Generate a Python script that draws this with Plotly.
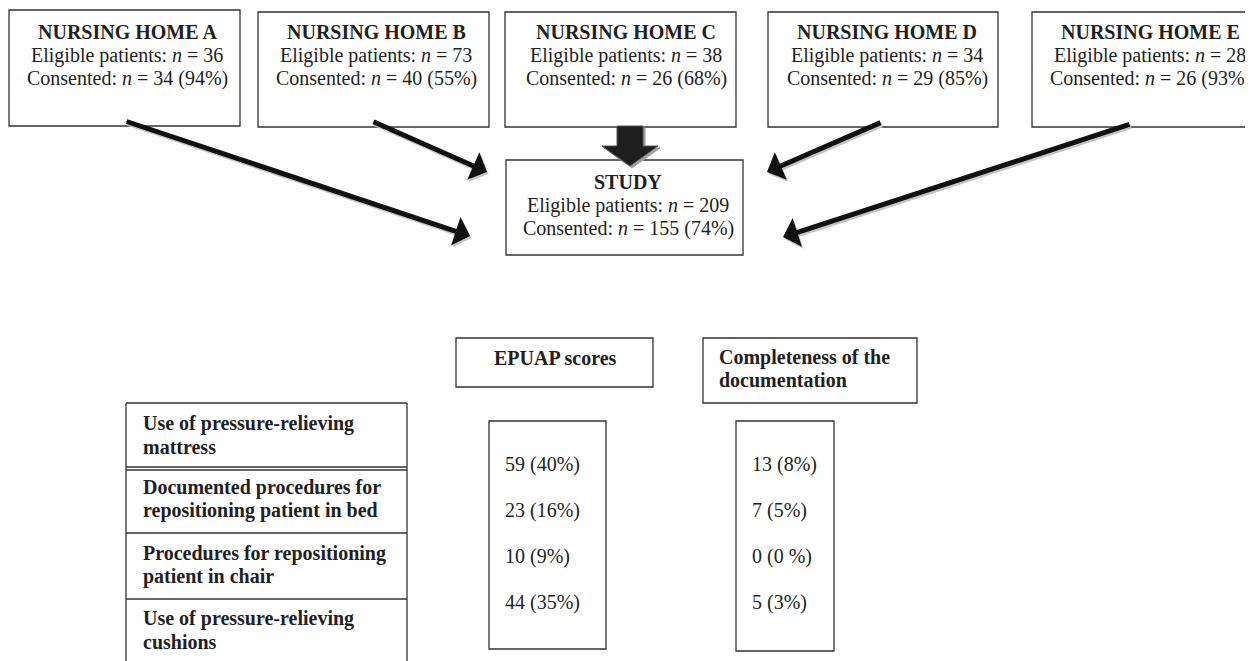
import plotly.graph_objects as go

# ---------------- data ----------------
homes = ["NURSING HOME A", "NURSING HOME B", "NURSING HOME C", "NURSING HOME D", "NURSING HOME E"]
eligible = [36, 73, 38, 34, 28]
consented = [34, 40, 26, 29, 26]
consented_pct = [94, 55, 68, 85, 93]

study_title = "STUDY"
study_eligible = 209
study_consented = 155
study_pct = 74

criteria = [
    ["Use of pressure-relieving", "mattress"],
    ["Documented procedures for", "repositioning patient in bed"],
    ["Procedures for repositioning", "patient in chair"],
    ["Use of pressure-relieving", "cushions"],
]
epuap_header = "EPUAP scores"
epuap_n = [59, 23, 10, 44]
epuap_pct = ["40%", "16%", "9%", "35%"]
doc_header = ["Completeness of the", "documentation"]
doc_n = [13, 7, 0, 5]
doc_pct = ["8%", "5%", "0 %", "3%"]

# ---------------- layout constants (pixel space of the page) ----------------
W, H = 1253, 661
PAGE_MARGIN = 8          # default body margin of the html page
FONT = "Liberation Serif"
FS = 20
TXT = "#231f20"
EDGE = "#333333"

home_boxes = [(9, 240, 10, 126), (258, 489, 12, 127), (505, 736, 12, 127),
              (768, 998, 12, 127), (1032, 1262, 12, 127)]
home_text_x = [127, 376, 626, 887, 1150]
home_text_y = [32, 55, 78]

study_box = (506, 743, 160, 255)
study_text_x = 628
study_text_y = [182, 205, 228]

arrows = [((125, 121), (470, 236)), ((372, 121), (487, 172)),
          ((882, 122), (767, 172)), ((1131, 124), (783, 237))]

table_box = (126, 407, 403, 675)
table_text_x = 141
table_line_y = [(423, 447), (487, 510), (553, 576), (618, 642)]
table_seps = [467, 470, 533, 599]

epuap_hbox = (456, 653, 338, 387)
epuap_hx, epuap_hy = 555, 358
doc_hbox = (703, 917, 338, 403)
doc_hx, doc_hy = 717, [357, 380]

epuap_vbox = (489, 606, 421, 649)
doc_vbox = (736, 834, 421, 651)
val_y = [464, 510, 556, 602]
epuap_vx = 503
doc_vx = 750

fig = go.Figure()
fig.add_trace(go.Scatter(x=[PAGE_MARGIN, W], y=[PAGE_MARGIN, H], mode="markers",
                         marker=dict(opacity=0), hoverinfo="skip", showlegend=False))

shapes = []
annotations = []


def rect(b, lw=1.3):
    x0, x1, y0, y1 = b
    shapes.append(dict(type="rect", xref="x", yref="y", x0=x0, x1=x1, y0=y0, y1=y1,
                       line=dict(color=EDGE, width=lw), fillcolor="rgba(0,0,0,0)"))


def text(x, y, s, anchor="center", bold=False):
    if bold:
        s = "<b>" + s + "</b>"
    annotations.append(dict(x=x, y=y, xref="x", yref="y", text=s, showarrow=False,
                            xanchor=anchor, yanchor="middle",
                            font=dict(family=FONT, size=FS, color=TXT)))


# nursing homes
for i, name in enumerate(homes):
    rect(home_boxes[i])
    tx = home_text_x[i]
    text(tx, home_text_y[0], name, bold=True)
    text(tx, home_text_y[1], f"Eligible patients: <i>n</i> = {eligible[i]}")
    text(tx, home_text_y[2], f"Consented: <i>n</i> = {consented[i]} ({consented_pct[i]}%)")

# study box
rect(study_box)
text(study_text_x, study_text_y[0], study_title, bold=True)
text(study_text_x, study_text_y[1], f"Eligible patients: <i>n</i> = {study_eligible}")
text(study_text_x, study_text_y[2], f"Consented: <i>n</i> = {study_consented} ({study_pct}%)")

# block arrow C -> study
cx = 630


def block_arrow(dx, dy, fill, line_col):
    p = (f"M {cx-13+dx},{126+dy} L {cx+13+dx},{126+dy} L {cx+13+dx},{146+dy} "
         f"L {cx+28+dx},{146+dy} L {cx+dx},{166+dy} L {cx-28+dx},{146+dy} "
         f"L {cx-13+dx},{146+dy} Z")
    shapes.append(dict(type="path", xref="x", yref="y", path=p, fillcolor=fill,
                       line=dict(color=line_col, width=1)))


block_arrow(2, 2, "#a0a0a0", "#a0a0a0")
block_arrow(0, 0, "#1e1e1e", "#555555")

# line arrows (shadow first)
for (tail, tip) in arrows:
    annotations.append(dict(x=tip[0] + 1.5, y=tip[1] + 2, ax=tail[0] + 1.5, ay=tail[1] + 2,
                            xref="x", yref="y", axref="x", ayref="y", text="",
                            showarrow=True, arrowhead=1, arrowsize=1.0, arrowwidth=5,
                            arrowcolor="#c4c4c4", standoff=0))
for (tail, tip) in arrows:
    annotations.append(dict(x=tip[0], y=tip[1], ax=tail[0], ay=tail[1],
                            xref="x", yref="y", axref="x", ayref="y", text="",
                            showarrow=True, arrowhead=1, arrowsize=1.0, arrowwidth=5,
                            arrowcolor="#111111", standoff=0))

# headers
rect(epuap_hbox)
text(epuap_hx, epuap_hy, epuap_header, bold=True)
rect(doc_hbox)
for j, line in enumerate(doc_header):
    text(doc_hx, doc_hy[j], line, anchor="left", bold=True)

# criteria table
x0, x1, y0, y1 = table_box
shapes.append(dict(type="line", xref="x", yref="y", x0=x0, x1=x1, y0=y0, y1=y0,
                   line=dict(color=EDGE, width=1.3)))
for xx in (x0, x1):
    shapes.append(dict(type="line", xref="x", yref="y", x0=xx, x1=xx, y0=y0, y1=y1,
                       line=dict(color=EDGE, width=1.3)))
for yy in table_seps:
    shapes.append(dict(type="line", xref="x", yref="y", x0=x0, x1=x1, y0=yy, y1=yy,
                       line=dict(color=EDGE, width=1.3)))
for r, lines in enumerate(criteria):
    for k, line in enumerate(lines):
        text(table_text_x, table_line_y[r][k], line, anchor="left", bold=True)

# value columns
rect(epuap_vbox)
rect(doc_vbox)
for r in range(len(epuap_n)):
    text(epuap_vx, val_y[r], f"{epuap_n[r]} ({epuap_pct[r]})", anchor="left")
    text(doc_vx, val_y[r], f"{doc_n[r]} ({doc_pct[r]})", anchor="left")

fig.update_layout(
    width=W - PAGE_MARGIN, height=H - PAGE_MARGIN, margin=dict(l=0, r=0, t=0, b=0),
    paper_bgcolor="white", plot_bgcolor="white",
    xaxis=dict(range=[PAGE_MARGIN, W], visible=False, fixedrange=True),
    yaxis=dict(range=[H, PAGE_MARGIN], visible=False, fixedrange=True),
    shapes=shapes, annotations=annotations, showlegend=False,
)

fig.write_html("out.html", config={"displayModeBar": False})
